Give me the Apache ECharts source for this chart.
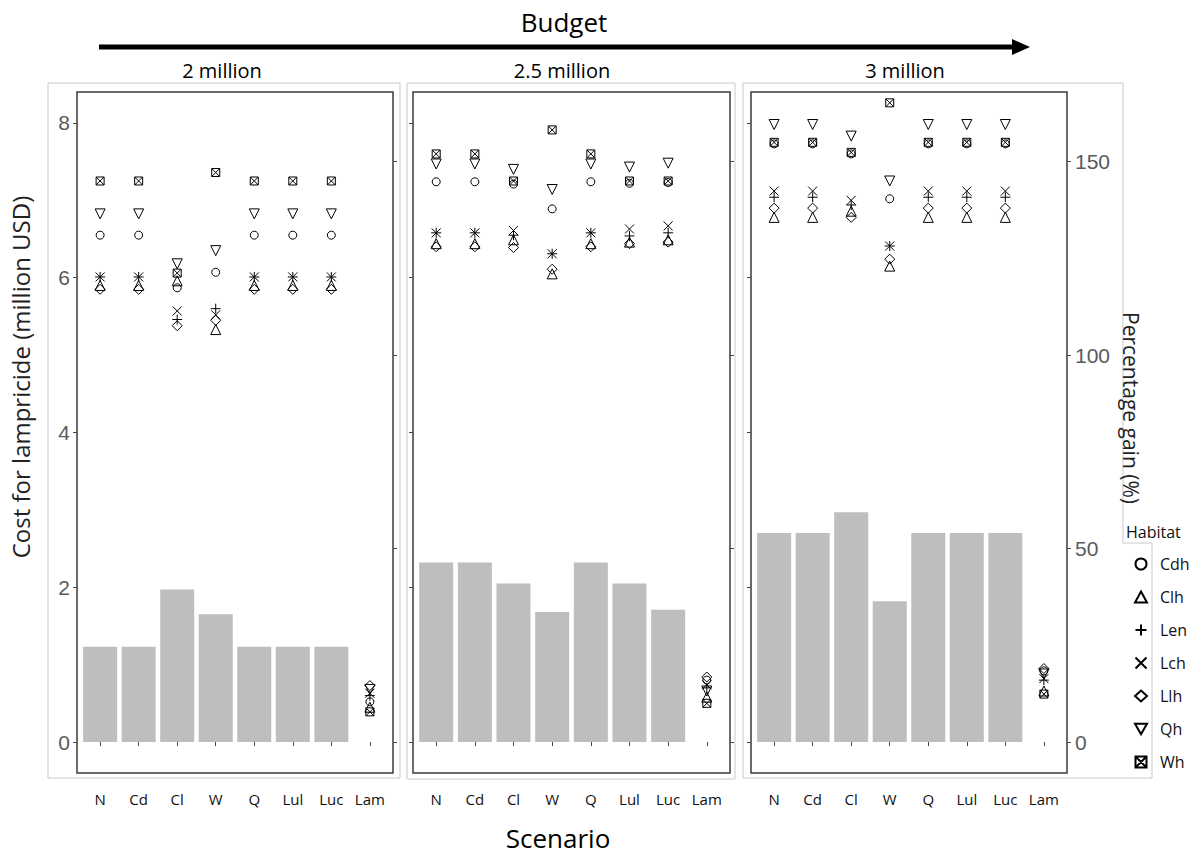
<!DOCTYPE html>
<html><head><meta charset="utf-8">
<script src="https://cdn.jsdelivr.net/npm/echarts@6/dist/echarts.min.js"></script>
<style>html,body{margin:0;padding:0;background:#fff}#c{width:1195px;height:860px}</style>
</head><body><div id="c"></div>
<script>
// ---------- data ----------
const categories = ['N', 'Cd', 'Cl', 'W', 'Q', 'Lul', 'Luc', 'Lam'];
const budgets = ['2 million', '2.5 million', '3 million'];
const habitats = ['Cdh', 'Clh', 'Len', 'Lch', 'Llh', 'Qh', 'Wh'];
const costTicks = [0, 2, 4, 6, 8];
const gainTicks = [0, 50, 100, 150];

// Cost for lampricide (million USD), bars
const cost_2m  = [1.23, 1.23, 1.97, 1.65, 1.23, 1.23, 1.23, null];
const cost_25m = [2.32, 2.32, 2.05, 1.68, 2.32, 2.05, 1.71, null];
const cost_3m  = [2.70, 2.70, 2.97, 1.82, 2.70, 2.70, 2.70, null];

// Percentage gain (%) by habitat, budget 2 million
const cdh_2m = [131, 131, 117.4, 121.4, 131, 131, 131, 10.4];
const clh_2m = [118, 118, 119.2, 106.6, 118, 118, 118, 9];
const len_2m = [120.2, 120.2, 109.2, 112, 120.2, 120.2, 120.2, 12];
const lch_2m = [120.2, 120.2, 111.4, 110.4, 120.2, 120.2, 120.2, 12.6];
const llh_2m = [117, 117, 107.6, 109, 117, 117, 117, 14.6];
const qh_2m  = [136.5, 136.5, 123.6, 127, 136.5, 136.5, 136.5, 13.6];
const wh_2m  = [145, 145, 121.2, 147.2, 145, 145, 145, 7.8];

// budget 2.5 million
const cdh_25m = [144.8, 144.8, 144.2, 137.8, 144.8, 144.4, 144.6, 16];
const clh_25m = [128.8, 128.8, 129.8, 121, 128.8, 129.2, 129.8, 11.6];
const len_25m = [131.6, 131.6, 131, 126.2, 131.6, 130.8, 131.6, 14];
const lch_25m = [131.6, 131.6, 132.2, 126.2, 131.6, 132.6, 133.4, 14.8];
const llh_25m = [128, 128, 127.8, 122.2, 128, 128.8, 129.2, 16.8];
const qh_25m  = [149.4, 149.4, 148, 142.8, 149.4, 148.6, 149.6, 13.2];
const wh_25m  = [152, 152, 145, 158.2, 152, 145, 145, 10];

// budget 3 million
const cdh_3m = [154.6, 154.6, 152, 140.4, 154.6, 154.6, 154.6, 18.4];
const clh_3m = [135.6, 135.6, 137.2, 123, 135.6, 135.6, 135.6, 13.2];
const len_3m = [140.8, 140.8, 138.8, 128.2, 140.8, 140.8, 140.8, 16];
const lch_3m = [142.4, 142.4, 140, 128.2, 142.4, 142.4, 142.4, 16.4];
const llh_3m = [138, 138, 135.6, 124.8, 138, 138, 138, 19];
const qh_3m  = [159.6, 159.6, 156.6, 145, 159.6, 159.6, 159.6, 17.6];
const wh_3m  = [155, 155, 152.4, 165.2, 155, 155, 155, 12.4];

// ---------- assembly ----------
const costs = [cost_2m, cost_25m, cost_3m];
const gains = [
  [cdh_2m, clh_2m, len_2m, lch_2m, llh_2m, qh_2m, wh_2m],
  [cdh_25m, clh_25m, len_25m, lch_25m, llh_25m, qh_25m, wh_25m],
  [cdh_3m, clh_3m, len_3m, lch_3m, llh_3m, qh_3m, wh_3m]
];
const symbols = [
  {symbol: 'circle', size: 8},
  {symbol: 'triangle', size: 10},
  {symbol: 'path://M5,0L5,10M0,5L10,5', size: 10},
  {symbol: 'path://M0,0L10,10M10,0L0,10', size: 9},
  {symbol: 'diamond', size: 10},
  {symbol: 'path://M0,0L10,0L5,8.66Z', size: 10},
  {symbol: 'path://M0,0L10,0L10,10L0,10ZM0,0L10,10M10,0L0,10', size: 8}
];

const gridLeft = [77, 413, 751];
const gridWidth = [316, 317, 316];
const xPos = categories.map((c, i) => i + 1);

const grids = [], xAxes = [], yAxes = [], series = [];
const tickLine = {lineStyle: {color: '#444', width: 1}};
for (let p = 0; p < 3; p++) {
  grids.push({left: gridLeft[p], top: 92, width: gridWidth[p], height: 681,
    show: true, borderColor: '#3a3a3a', borderWidth: 1.5, backgroundColor: 'transparent'});
  xAxes.push({type: 'value', gridIndex: p, min: 0.4, max: 8.6,
    axisLine: {show: false}, splitLine: {show: false},
    axisTick: Object.assign({show: true, length: 4, customValues: xPos}, tickLine),
    axisLabel: {customValues: xPos, formatter: v => categories[Math.round(v) - 1] || '',
      fontSize: 15, fontFamily: 'Open Sans', color: '#111', margin: 18}});
  yAxes.push({type: 'value', gridIndex: p, position: 'left', min: -0.4, max: 8.4,
    axisLine: {show: false}, splitLine: {show: false},
    axisTick: Object.assign({show: true, length: 4, customValues: costTicks}, tickLine),
    axisLabel: {show: p === 0, customValues: costTicks, fontSize: 21,
      fontFamily: 'Liberation Sans', color: '#5a5a5a', margin: 7}});
  yAxes.push({type: 'value', gridIndex: p, position: 'right', min: -8, max: 168,
    axisLine: {show: false}, splitLine: {show: false},
    axisTick: Object.assign({show: true, length: 4, customValues: gainTicks}, tickLine),
    axisLabel: {show: p === 2, customValues: gainTicks, fontSize: 21,
      fontFamily: 'Liberation Sans', color: '#5a5a5a', margin: 8}});

  series.push({type: 'bar', name: 'Cost', xAxisIndex: p, yAxisIndex: 2 * p,
    data: costs[p].map((v, i) => [i + 1, v]).filter(d => d[1] !== null),
    barWidth: 34, itemStyle: {color: '#bebebe'}, silent: true, z: 1});
  habitats.forEach((h, k) => {
    series.push({type: 'scatter', name: h, xAxisIndex: p, yAxisIndex: 2 * p + 1,
      data: gains[p][k].map((v, i) => [i + 1, v]),
      symbol: symbols[k].symbol, symbolSize: symbols[k].size,
      itemStyle: {color: 'rgba(0,0,0,0)', borderColor: '#000', borderWidth: 1, opacity: 1},
      z: 3});
  });
}

const frameStyle = {fill: 'none', stroke: '#c9c9c9', lineWidth: 1};
const option = {
  animation: false,
  backgroundColor: '#fff',
  grid: grids, xAxis: xAxes, yAxis: yAxes, series: series,
  legend: {data: habitats.map((h, k) => ({name: h, icon: symbols[k].symbol})),
    orient: 'vertical', left: 1129, top: 549,
    itemWidth: 12, itemHeight: 11, itemGap: 13, symbolKeepAspect: true,
    textStyle: {fontSize: 16, lineHeight: 20, color: '#111', fontFamily: 'Open Sans', padding: [0, 0, 0, 8]}},
  graphic: [
    {type: 'rect', shape: {x: 48, y: 83, width: 352, height: 695}, style: frameStyle, silent: true},
    {type: 'rect', shape: {x: 407, y: 83, width: 328, height: 696}, style: frameStyle, silent: true},
    {type: 'polyline', shape: {points: [[743, 83], [1123, 83], [1123, 543], [1152, 543], [1152, 778], [743, 778], [743, 83]]},
      style: {stroke: '#c9c9c9', lineWidth: 1, fill: 'none'}, silent: true},
    {type: 'line', shape: {x1: 99, y1: 47, x2: 1016, y2: 47}, style: {stroke: '#000', lineWidth: 5}, silent: true},
    {type: 'polygon', shape: {points: [[1012, 39], [1030, 47], [1012, 55]]}, style: {fill: '#000'}, silent: true},
    {type: 'text', x: 564, y: 22, style: {text: 'Budget', font: '26px "Open Sans"', fill: '#000', align: 'center', verticalAlign: 'middle'}},
    {type: 'text', x: 222, y: 70, style: {text: budgets[0], font: '20px "Open Sans"', fill: '#000', align: 'center', verticalAlign: 'middle'}},
    {type: 'text', x: 562, y: 70, style: {text: budgets[1], font: '20px "Open Sans"', fill: '#000', align: 'center', verticalAlign: 'middle'}},
    {type: 'text', x: 905, y: 70, style: {text: budgets[2], font: '20px "Open Sans"', fill: '#000', align: 'center', verticalAlign: 'middle'}},
    {type: 'text', x: 558, y: 838, style: {text: 'Scenario', font: '26px "Open Sans"', fill: '#000', align: 'center', verticalAlign: 'middle'}},
    {type: 'text', x: 20, y: 377, rotation: Math.PI / 2, style: {text: 'Cost for lampricide (million USD)', font: '24px "Open Sans"', fill: '#222', align: 'center', verticalAlign: 'middle'}},
    {type: 'text', x: 1131, y: 408, rotation: -Math.PI / 2, style: {text: 'Percentage gain (%)', font: '21px "Open Sans"', fill: '#222', align: 'center', verticalAlign: 'middle'}},
    {type: 'text', x: 1126, y: 532, style: {text: 'Habitat', font: '16px "Open Sans"', fill: '#111', align: 'left', verticalAlign: 'middle'}}
  ]
};
const chart = echarts.init(document.getElementById('c'), null, {renderer: 'svg'});
chart.setOption(option);
</script>
</body></html>
